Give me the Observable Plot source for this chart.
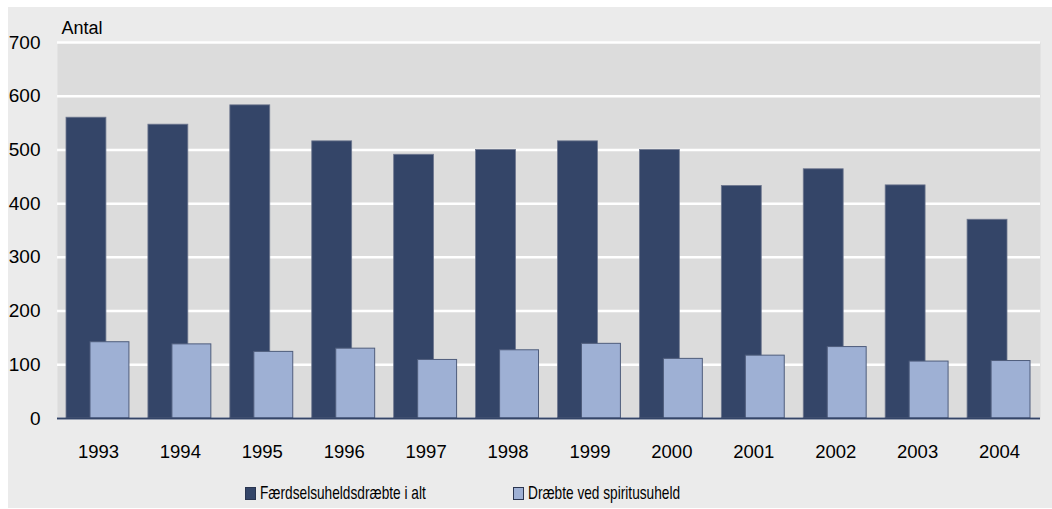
<!DOCTYPE html>
<html>
<head>
<meta charset="utf-8">
<script src="https://cdn.jsdelivr.net/npm/d3@7"></script>
<script src="https://cdn.jsdelivr.net/npm/@observablehq/plot@0.6"></script>
<style>
  html, body { margin: 0; padding: 0; background: #ffffff; }
  #panel {
    position: absolute; left: 8px; top: 7px; width: 1044px; height: 501px;
    background: #ebebeb; font-family: "Liberation Sans", Arial, sans-serif;
  }
  .lg { position: absolute; top: 475px; display: flex; align-items: center; font-size: 19px; color: #000; white-space: nowrap; }
  .sw { width: 11px; height: 13px; margin-right: 4px; box-sizing: border-box; border: 1px solid #2a3550; flex: none; }
  .lt { display: inline-block; transform: scaleX(0.72); transform-origin: left center; }
</style>
</head>
<body>
<div id="panel"></div>
<script>
const years = ["1993","1994","1995","1996","1997","1998","1999","2000","2001","2002","2003","2004"];
const totalKilled = [560, 547, 583, 516, 491, 500, 516, 500, 433, 464, 434, 370];
const drunkKilled = [142, 138, 124, 130, 109, 127, 139, 111, 117, 133, 106, 107];
const yTicks = [0, 100, 200, 300, 400, 500, 600, 700];
const seriesNames = ["Færdselsuheldsdræbte i alt", "Dræbte ved spiritusuheld"];
const seriesColors = ["#344568", "#9eb0d4"];
const yLabel = "Antal";

const rows = years.map((y, i) => ({year: y, total: totalKilled[i], drunk: drunkKilled[i]}));

const chart = Plot.plot({
  width: 1044, height: 460,
  marginLeft: 49, marginRight: 12, marginTop: 35, marginBottom: 49,
  style: {background: "transparent", fontFamily: "'Liberation Sans', Arial, sans-serif", fontSize: "18px", color: "#000", overflow: "visible"},
  x: {domain: years, padding: 0, round: false, label: null},
  y: {domain: [0, 700], label: null},
  marks: [
    Plot.frame({fill: "#dcdcdc", stroke: null}),
    Plot.gridY(yTicks, {stroke: "#ffffff", strokeOpacity: 1, strokeWidth: 2.5}),
    Plot.barY(rows, {x: "year", y: "total", fill: seriesColors[0], insetLeft: 9, insetRight: 33, stroke: "#6f7890", strokeWidth: 0.8}),
    Plot.barY(rows, {x: "year", y: "drunk", fill: seriesColors[1], insetLeft: 33, insetRight: 10, stroke: "#4f5d7c", strokeWidth: 1}),
    Plot.ruleY([0], {stroke: "#344568", strokeWidth: 2}),
    Plot.axisY({ticks: yTicks, tickSize: 0, tickPadding: 17, label: null, fontSize: 19}),
    Plot.axisX({tickSize: 0, tickPadding: 26, label: null, fontSize: 18.5}),
    Plot.text([yLabel], {frameAnchor: "top-left", text: d => d, textAnchor: "start", lineAnchor: "bottom", dx: 4, dy: -9, fontSize: 18})
  ]
});

const panel = document.getElementById("panel");
panel.appendChild(chart);

const legendLeft = [237, 505];
seriesNames.forEach((name, i) => {
  const item = document.createElement("div");
  item.className = "lg";
  item.style.left = legendLeft[i] + "px";
  const sw = document.createElement("span");
  sw.className = "sw";
  sw.style.background = seriesColors[i];
  const label = document.createElement("span");
  label.className = "lt";
  label.textContent = name;
  item.appendChild(sw);
  item.appendChild(label);
  panel.appendChild(item);
});
</script>
</body>
</html>
